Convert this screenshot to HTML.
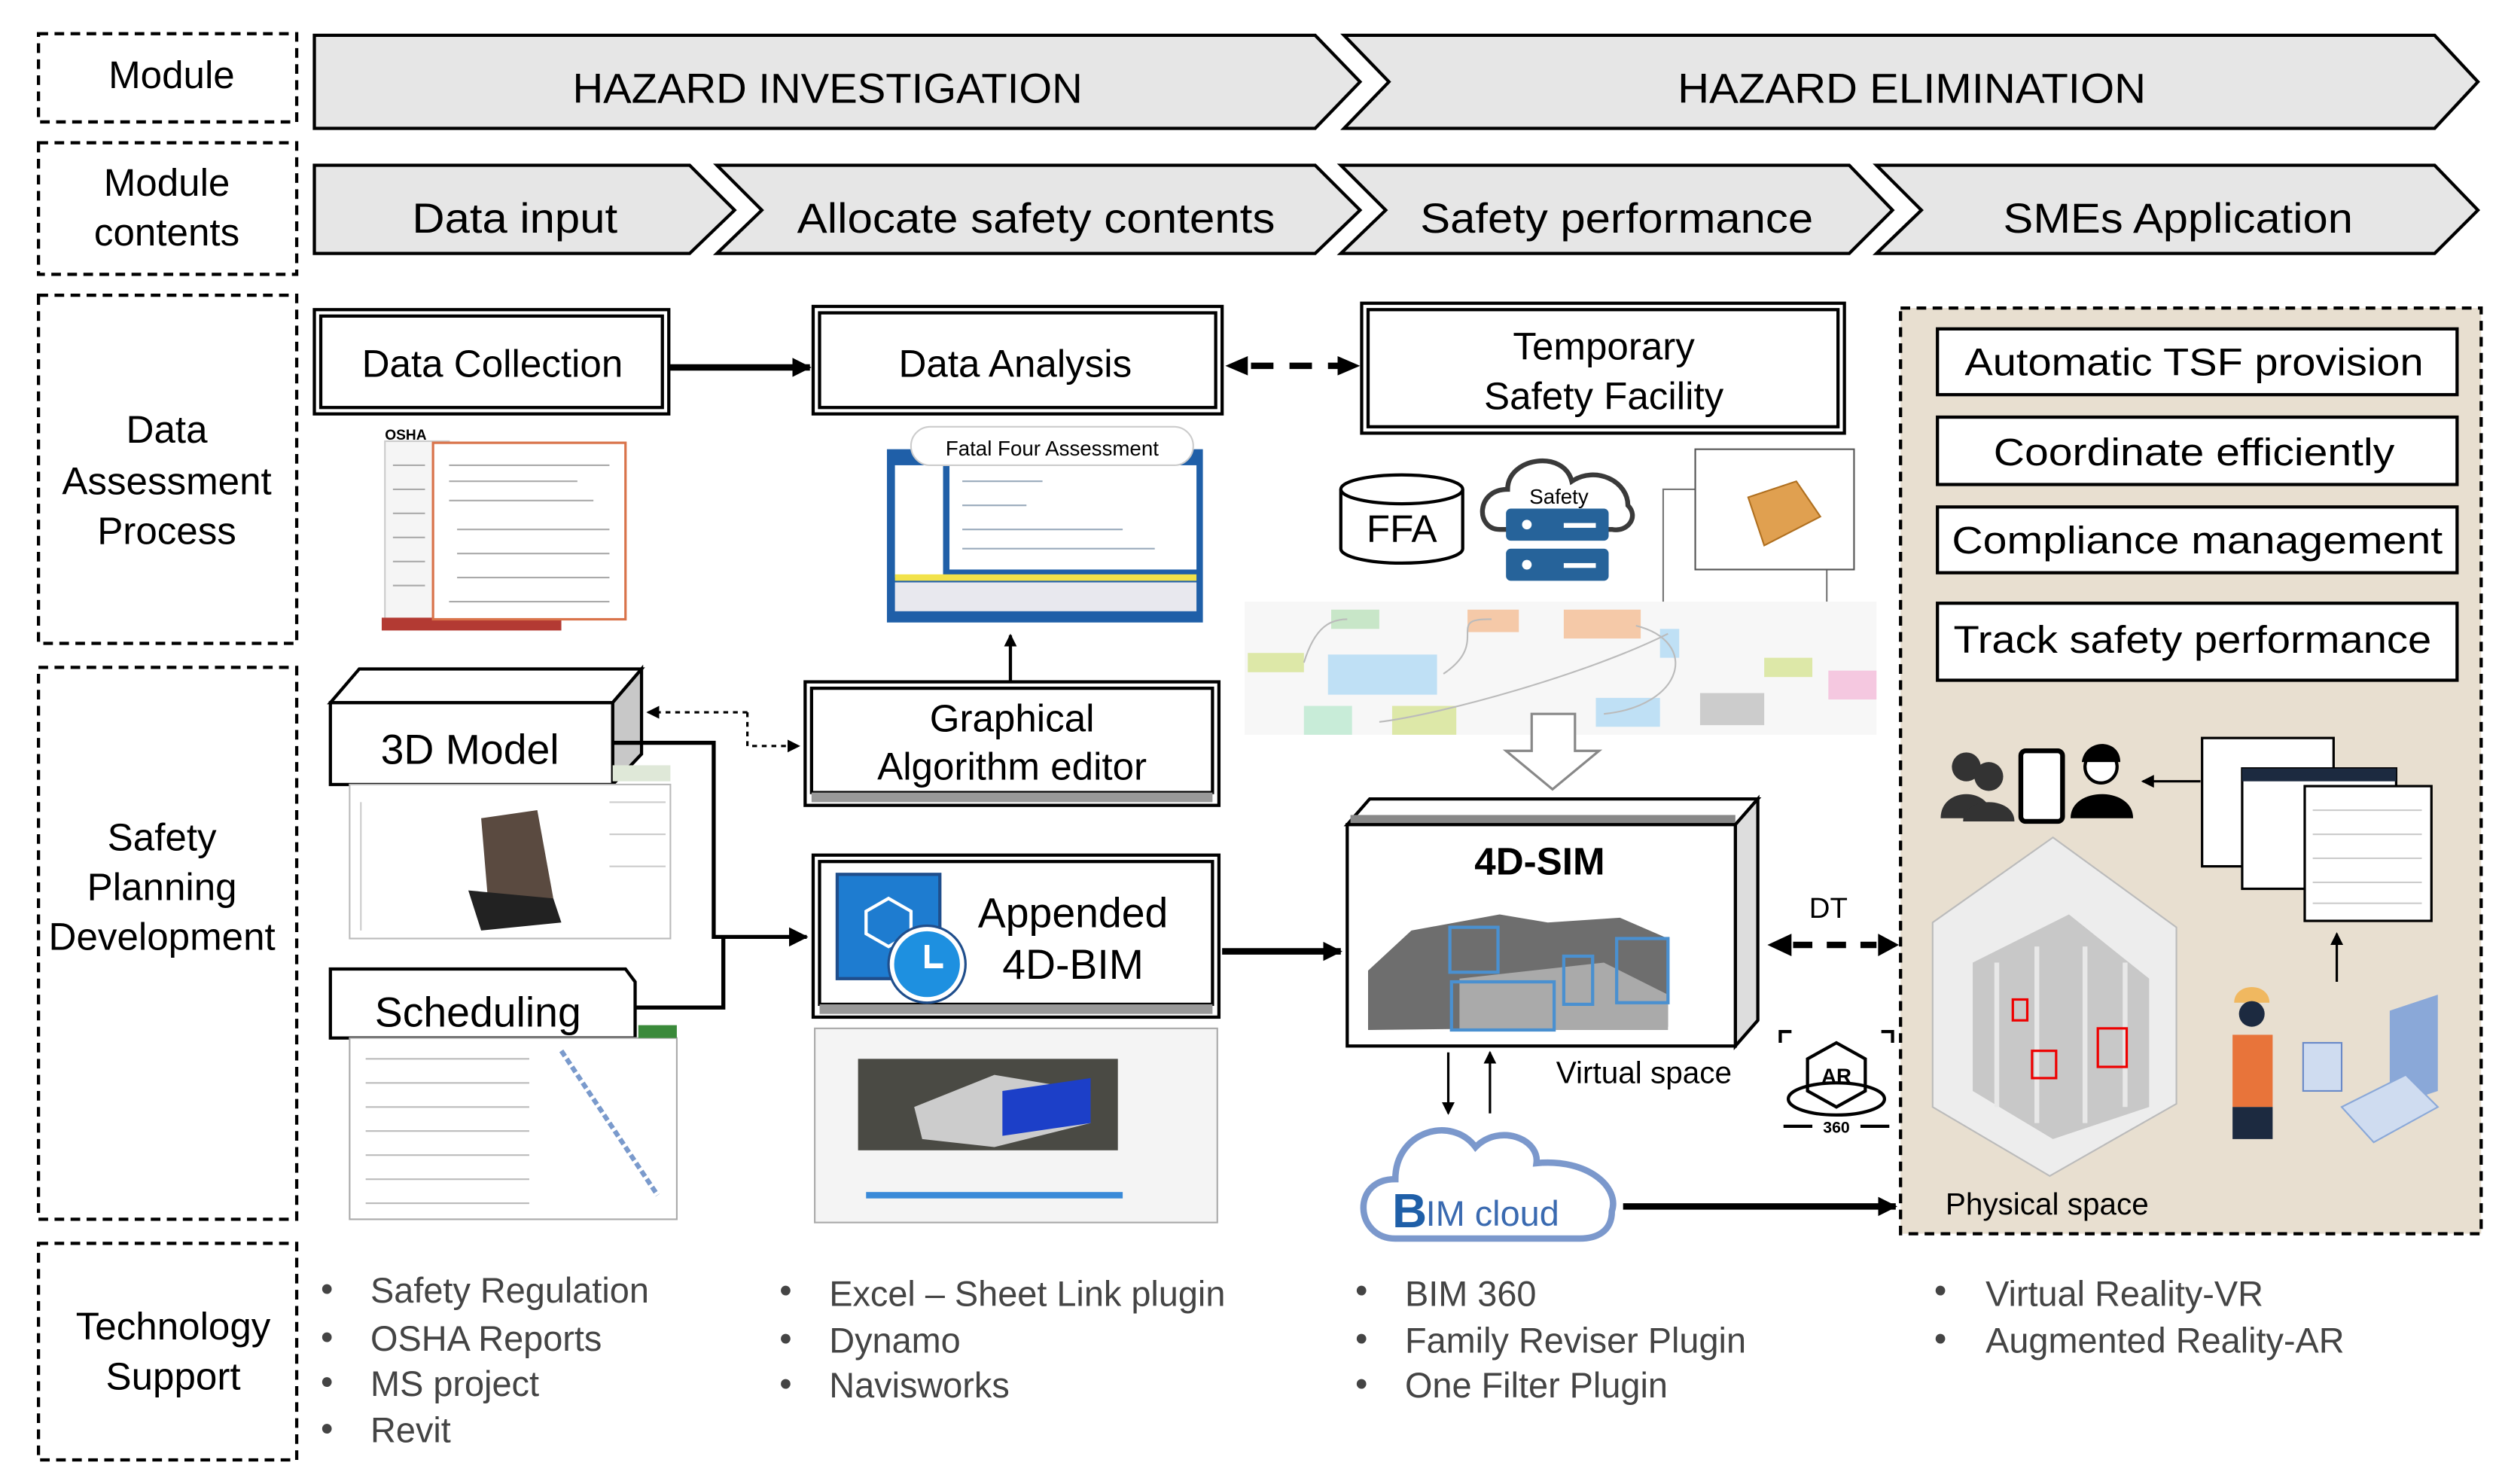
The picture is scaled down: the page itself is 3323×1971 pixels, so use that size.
<!DOCTYPE html>
<html><head><meta charset="utf-8"><style>
html,body{margin:0;padding:0;background:#fff;}
svg{display:block;}
text{font-family:"Liberation Sans",sans-serif;}
</style></head><body>
<svg width="3323" height="1971" viewBox="0 0 1560 925" preserveAspectRatio="none" xmlns="http://www.w3.org/2000/svg">
<defs>
<marker id="ah" markerWidth="6" markerHeight="6" refX="5" refY="3" orient="auto" markerUnits="strokeWidth"><path d="M0,0 L6,3 L0,6 z" fill="#000"/></marker>
<marker id="ahs" markerWidth="8" markerHeight="8" refX="7" refY="4" orient="auto" markerUnits="userSpaceOnUse"><path d="M0,0 L8,4 L0,8 z" fill="#000"/></marker>
<marker id="ahL" markerWidth="12" markerHeight="12" refX="11" refY="6" orient="auto" markerUnits="userSpaceOnUse"><path d="M0,0 L12,6 L0,12 z" fill="#000"/></marker>
</defs>
<rect width="1560" height="925" fill="#fff"/>

<!-- left dashed boxes -->
<g fill="none" stroke="#000" stroke-width="2" stroke-dasharray="6,4">
<rect x="24" y="21" width="161" height="55"/>
<rect x="24" y="89" width="161" height="82"/>
<rect x="24" y="184" width="161" height="217"/>
<rect x="24" y="416" width="161" height="344"/>
<rect x="24" y="775" width="161" height="135"/>
</g>
<g font-size="24" fill="#000" text-anchor="middle">
<text x="107" y="55">Module</text>
<text x="104" y="122">Module</text>
<text x="104" y="153">contents</text>
<text x="104" y="276">Data</text>
<text x="104" y="308">Assessment</text>
<text x="104" y="339">Process</text>
<text x="101" y="530">Safety</text>
<text x="101" y="561">Planning</text>
<text x="101" y="592">Development</text>
<text x="108" y="835">Technology</text>
<text x="108" y="866">Support</text>
</g>

<!-- chevrons -->
<g fill="#e6e6e6" stroke="#000" stroke-width="2">
<polygon points="196,22 820,22 848,51 820,80 196,80"/>
<polygon points="838,22 1518,22 1545,51 1518,80 838,80 866,51"/>
<polygon points="196,103 430,103 458,131 430,158 196,158"/>
<polygon points="447,103 820,103 848,131 820,158 447,158 475,131"/>
<polygon points="836,103 1153,103 1180,131 1153,158 836,158 864,131"/>
<polygon points="1170,103 1518,103 1545,131 1518,158 1170,158 1198,131"/>
</g>
<g font-size="26" fill="#000" text-anchor="middle">
<text x="516" y="64" textLength="318" lengthAdjust="spacingAndGlyphs">HAZARD INVESTIGATION</text>
<text x="1192" y="64" textLength="292" lengthAdjust="spacingAndGlyphs">HAZARD ELIMINATION</text>
<text x="321" y="145" textLength="128" lengthAdjust="spacingAndGlyphs">Data input</text>
<text x="646" y="145" textLength="298" lengthAdjust="spacingAndGlyphs">Allocate safety contents</text>
<text x="1008" y="145" textLength="245" lengthAdjust="spacingAndGlyphs">Safety performance</text>
<text x="1358" y="145" textLength="218" lengthAdjust="spacingAndGlyphs">SMEs Application</text>
</g>

<!-- Data collection / analysis / TSF boxes -->
<g fill="#fff" stroke="#000">
<rect x="196" y="193" width="221" height="65" stroke-width="2"/>
<rect x="200" y="197" width="213" height="57" stroke-width="2"/>
<rect x="507" y="191" width="255" height="67" stroke-width="2"/>
<rect x="511" y="195" width="247" height="59" stroke-width="2"/>
<rect x="849" y="189" width="301" height="81" stroke-width="2"/>
<rect x="853" y="193" width="293" height="73" stroke-width="2"/>
</g>
<g font-size="24" fill="#000" text-anchor="middle">
<text x="307" y="235">Data Collection</text>
<text x="633" y="235">Data Analysis</text>
<text x="1000" y="224">Temporary</text>
<text x="1000" y="255">Safety Facility</text>
</g>
<line x1="417" y1="229" x2="505" y2="229" stroke="#000" stroke-width="4" marker-end="url(#ahL)"/>
<line x1="780" y1="228" x2="835" y2="228" stroke="#000" stroke-width="4" stroke-dasharray="14,10"/>
<path d="M764,228 L778,222 L778,234 z" fill="#000"/>
<path d="M848,228 L834,222 L834,234 z" fill="#000"/>

<!-- OSHA image -->
<rect x="240" y="275" width="40" height="115" fill="#f5f5f5" stroke="#ccc"/>
<text x="240" y="274" font-size="9" font-weight="bold">OSHA</text>
<rect x="238" y="385" width="112" height="8" fill="#b33a33"/>
<rect x="270" y="276" width="120" height="110" fill="#fff" stroke="#d9734a" stroke-width="1.5"/>
<g stroke="#aaa" stroke-width="1">
<line x1="280" y1="290" x2="380" y2="290"/><line x1="280" y1="300" x2="360" y2="300"/><line x1="280" y1="312" x2="370" y2="312"/><line x1="285" y1="330" x2="380" y2="330"/><line x1="285" y1="345" x2="380" y2="345"/><line x1="285" y1="360" x2="380" y2="360"/><line x1="280" y1="375" x2="380" y2="375"/>
<line x1="245" y1="290" x2="265" y2="290"/><line x1="245" y1="305" x2="265" y2="305"/><line x1="245" y1="320" x2="265" y2="320"/><line x1="245" y1="335" x2="265" y2="335"/><line x1="245" y1="350" x2="265" y2="350"/><line x1="245" y1="365" x2="265" y2="365"/>
</g>

<!-- Fatal four screenshot -->
<rect x="553" y="280" width="197" height="108" fill="#1f5fa8"/>
<rect x="558" y="290" width="30" height="70" fill="#fff"/>
<rect x="592" y="290" width="154" height="65" fill="#fff"/>
<rect x="558" y="358" width="188" height="4" fill="#f2e24a"/>
<rect x="558" y="363" width="188" height="18" fill="#e8e8ee"/>
<g stroke="#9ab" stroke-width="1"><line x1="600" y1="300" x2="650" y2="300"/><line x1="600" y1="315" x2="640" y2="315"/><line x1="600" y1="330" x2="700" y2="330"/><line x1="600" y1="342" x2="720" y2="342"/></g>
<rect x="568" y="266" width="176" height="24" rx="12" fill="#fff" stroke="#ccc"/>
<text x="656" y="284" font-size="13" text-anchor="middle">Fatal Four Assessment</text>

<!-- FFA cylinder -->
<path d="M836,305 L836,342 A38,9 0 0 0 912,342 L912,305" fill="#fff" stroke="#000" stroke-width="2"/>
<ellipse cx="874" cy="305" rx="38" ry="9" fill="#fff" stroke="#000" stroke-width="2"/>
<text x="874" y="338" font-size="24" text-anchor="middle">FFA</text>
<!-- safety cloud -->
<path d="M935,330 C920,330 920,305 940,305 C940,285 975,280 980,300 C995,290 1015,300 1015,315 C1022,322 1015,332 1005,330 Z" fill="#fff" stroke="#3a3a3a" stroke-width="3"/>
<text x="972" y="314" font-size="13" text-anchor="middle">Safety</text>
<rect x="939" y="317" width="64" height="20" rx="3" fill="#26639a"/>
<rect x="939" y="342" width="64" height="20" rx="3" fill="#26639a"/>
<circle cx="952" cy="327" r="3" fill="#fff"/><circle cx="952" cy="352" r="3" fill="#fff"/>
<rect x="975" y="326" width="20" height="3" fill="#fff"/><rect x="975" y="351" width="20" height="3" fill="#fff"/>
<!-- revit image -->
<rect x="1037" y="305" width="102" height="80" fill="#fff" stroke="#777"/>
<rect x="1057" y="280" width="99" height="75" fill="#fff" stroke="#555"/>
<polygon points="1090,310 1120,300 1135,322 1100,340" fill="#e0a050" stroke="#b07020"/>
<!-- dynamo graph -->
<rect x="776" y="375" width="394" height="83" fill="#f7f7f7"/>
<g>
<rect x="830" y="380" width="30" height="12" fill="#c8e6c8"/><rect x="915" y="380" width="32" height="14" fill="#f5c9a8"/><rect x="975" y="380" width="48" height="18" fill="#f5c9a8"/>
<rect x="778" y="407" width="35" height="12" fill="#dde8a8"/><rect x="828" y="408" width="68" height="25" fill="#bfe0f5"/><rect x="1100" y="410" width="30" height="12" fill="#dde8a8"/><rect x="1140" y="418" width="30" height="18" fill="#f5c8e0"/>
<rect x="813" y="440" width="30" height="18" fill="#c8ecd8"/><rect x="868" y="440" width="40" height="18" fill="#dde8a8"/><rect x="995" y="435" width="40" height="18" fill="#bfe0f5"/><rect x="1060" y="432" width="40" height="20" fill="#ccc"/>
<rect x="1035" y="392" width="12" height="18" fill="#bfe0f5"/>
</g>
<g fill="none" stroke="#bbb" stroke-width="1"><path d="M813,413 C820,390 830,386 840,386"/><path d="M900,420 C930,400 900,385 930,386"/><path d="M860,450 C900,445 990,420 1040,395"/><path d="M1020,390 C1060,400 1050,440 1000,445"/></g>
<!-- hollow arrow -->
<polygon points="955,445 982,445 982,468 997,468 968,492 939,468 955,468" fill="#fff" stroke="#888" stroke-width="1.5"/>

<!-- 3D Model block -->
<polygon points="206,438 224,417 400,417 382,438" fill="#fff" stroke="#000" stroke-width="2"/>
<polygon points="382,438 400,417 400,470 382,489" fill="#c8c8c8" stroke="#000" stroke-width="2"/>
<rect x="206" y="438" width="176" height="51" fill="#fff" stroke="#000" stroke-width="2"/>
<text x="293" y="476" font-size="26" text-anchor="middle">3D Model</text>
<rect x="218" y="489" width="200" height="96" fill="#fff" stroke="#bbb"/>
<rect x="382" y="477" width="36" height="10" fill="#dfe8d8"/>
<polygon points="300,510 335,505 345,560 305,570" fill="#5a4a40"/>
<polygon points="292,555 345,560 350,575 300,580" fill="#222"/>
<g stroke="#ccc"><line x1="225" y1="500" x2="225" y2="580"/><line x1="380" y1="500" x2="415" y2="500"/><line x1="380" y1="520" x2="415" y2="520"/><line x1="380" y1="540" x2="415" y2="540"/></g>

<!-- Scheduling -->
<polygon points="206,604 390,604 396,612 396,647 206,647" fill="#fff" stroke="#000" stroke-width="2"/>
<text x="298" y="640" font-size="26" text-anchor="middle">Scheduling</text>
<rect x="218" y="647" width="204" height="113" fill="#fff" stroke="#aaa"/>
<rect x="398" y="639" width="24" height="8" fill="#3a8a3a"/>
<g stroke="#bbb"><line x1="228" y1="660" x2="330" y2="660"/><line x1="228" y1="675" x2="330" y2="675"/><line x1="228" y1="690" x2="330" y2="690"/><line x1="228" y1="705" x2="330" y2="705"/><line x1="228" y1="720" x2="330" y2="720"/><line x1="228" y1="735" x2="330" y2="735"/><line x1="228" y1="750" x2="330" y2="750"/></g>
<path d="M350,655 L410,745" stroke="#7a9acc" stroke-width="3" stroke-dasharray="4,2"/>

<!-- Graphical algorithm editor -->
<rect x="502" y="425" width="258" height="77" fill="#fff" stroke="#000" stroke-width="2"/>
<rect x="506" y="429" width="250" height="65" fill="#fff" stroke="#000" stroke-width="2"/>
<rect x="506" y="494" width="250" height="6" fill="#999"/>
<text x="631" y="456" font-size="24" text-anchor="middle">Graphical</text>
<text x="631" y="486" font-size="24" text-anchor="middle">Algorithm  editor</text>
<line x1="630" y1="425" x2="630" y2="396" stroke="#000" stroke-width="2" marker-end="url(#ahs)"/>

<!-- dashed connector 3D <-> GAE -->
<path d="M466,444 L466,465 L498,465" fill="none" stroke="#000" stroke-width="1.5" stroke-dasharray="3,3" marker-end="url(#ahs)"/>
<path d="M466,444 L404,444" fill="none" stroke="#000" stroke-width="1.5" stroke-dasharray="3,3" marker-end="url(#ahs)"/>
<!-- solid connectors -->
<path d="M382,463 L445,463 L445,584 L503,584" fill="none" stroke="#000" stroke-width="2.5" marker-end="url(#ahL)"/>
<path d="M396,628 L451,628 L451,584" fill="none" stroke="#000" stroke-width="2.5"/>

<!-- Appended 4D-BIM -->
<rect x="507" y="533" width="253" height="101" fill="#fff" stroke="#000" stroke-width="2"/>
<rect x="511" y="537" width="245" height="89" fill="#fff" stroke="#000" stroke-width="2"/>
<rect x="511" y="626" width="245" height="6" fill="#999"/>
<rect x="522" y="545" width="64" height="65" fill="#1e7cd0" stroke="#1f4e8c" stroke-width="2"/>
<polygon points="554,560 568,568 568,582 554,590 540,582 540,568" fill="none" stroke="#fff" stroke-width="2"/>
<circle cx="578" cy="601" r="22" fill="#1e90e0" stroke="#fff" stroke-width="3"/>
<circle cx="578" cy="601" r="24" fill="none" stroke="#1f4e8c" stroke-width="1.5"/>
<path d="M578,589 L578,602 L588,602" stroke="#fff" stroke-width="3" fill="none"/>
<text x="669" y="578" font-size="26" text-anchor="middle">Appended</text>
<text x="669" y="610" font-size="26" text-anchor="middle">4D-BIM</text>
<rect x="508" y="641" width="251" height="121" fill="#f4f4f4" stroke="#aaa"/>
<rect x="535" y="660" width="162" height="57" fill="#4a4a44"/>
<polygon points="570,690 620,670 680,680 680,700 620,715 575,710" fill="#ccc"/>
<polygon points="625,680 680,672 680,700 625,708" fill="#1c3fc8"/>
<rect x="540" y="743" width="160" height="4" fill="#3a8ad8"/>
<line x1="762" y1="593" x2="836" y2="593" stroke="#000" stroke-width="4" marker-end="url(#ahL)"/>

<!-- 4D-SIM block -->
<polygon points="840,514 854,498 1096,498 1082,514" fill="#fff" stroke="#000" stroke-width="2"/>
<rect x="842" y="508" width="240" height="6" fill="#888"/>
<polygon points="1082,514 1096,498 1096,636 1082,652" fill="#ddd" stroke="#000" stroke-width="2"/>
<rect x="840" y="514" width="242" height="138" fill="#fff" stroke="#000" stroke-width="2"/>
<text x="960" y="545" font-size="24" font-weight="bold" text-anchor="middle">4D-SIM</text>
<polygon points="853,605 880,580 935,570 965,575 1010,572 1040,585 1040,640 853,642" fill="#6e6e6e"/>
<polygon points="910,610 1000,600 1040,620 1040,642 910,642" fill="#aaa"/>
<g fill="none" stroke="#4a90d0" stroke-width="2"><rect x="904" y="578" width="30" height="28"/><rect x="905" y="612" width="64" height="30"/><rect x="975" y="596" width="18" height="30"/><rect x="1008" y="585" width="32" height="40"/></g>
<text x="1025" y="675" font-size="19" text-anchor="middle">Virtual space</text>
<line x1="903" y1="656" x2="903" y2="694" stroke="#000" stroke-width="1.5" marker-end="url(#ahs)"/>
<line x1="929" y1="694" x2="929" y2="656" stroke="#000" stroke-width="1.5" marker-end="url(#ahs)"/>

<!-- DT -->
<text x="1140" y="572" font-size="18" text-anchor="middle">DT</text>
<line x1="1118" y1="589" x2="1170" y2="589" stroke="#000" stroke-width="4" stroke-dasharray="12,9"/>
<path d="M1102,589 L1117,582 L1117,596 z" fill="#000"/>
<path d="M1184,589 L1171,582 L1171,596 z" fill="#000"/>
<!-- AR icon -->
<g fill="none" stroke="#000" stroke-width="2">
<path d="M1110,650 L1110,643 L1117,643"/><path d="M1180,650 L1180,643 L1173,643"/>
<polygon points="1127,660 1145,650 1163,660 1163,680 1145,690 1127,680"/>
<ellipse cx="1145" cy="685" rx="30" ry="10"/>
<line x1="1112" y1="702" x2="1130" y2="702"/><line x1="1160" y1="702" x2="1178" y2="702"/>
</g>
<text x="1145" y="675" font-size="13" font-weight="bold" text-anchor="middle">AR</text>
<text x="1145" y="706" font-size="10" font-weight="bold" text-anchor="middle">360</text>

<!-- BIM cloud -->
<path d="M870,772 C845,772 842,735 870,735 C870,705 905,695 920,715 C935,700 960,710 958,725 C990,722 1010,740 1005,755 C1005,768 995,772 985,772 Z" fill="#fff" stroke="#7b98cc" stroke-width="4"/>
<text x="868" y="765" font-size="30" font-weight="bold" fill="#1f5fa8">B</text>
<text x="889" y="764" font-size="22" fill="#3a6ab0">IM cloud</text>
<line x1="1012" y1="752" x2="1182" y2="752" stroke="#000" stroke-width="4" marker-end="url(#ahL)"/>

<!-- beige panel -->
<rect x="1185" y="192" width="362" height="577" fill="#e8dfd0" stroke="#000" stroke-width="2" stroke-dasharray="6,4"/>
<g fill="#fff" stroke="#000" stroke-width="2">
<rect x="1208" y="205" width="324" height="41"/>
<rect x="1208" y="260" width="324" height="42"/>
<rect x="1208" y="316" width="324" height="41"/>
<rect x="1208" y="376" width="324" height="48"/>
</g>
<g font-size="24" text-anchor="middle">
<text x="1368" y="234" textLength="286" lengthAdjust="spacingAndGlyphs">Automatic TSF provision</text>
<text x="1368" y="290" textLength="250" lengthAdjust="spacingAndGlyphs">Coordinate efficiently</text>
<text x="1370" y="345" textLength="306" lengthAdjust="spacingAndGlyphs">Compliance management</text>
<text x="1367" y="407" textLength="298" lengthAdjust="spacingAndGlyphs">Track safety performance</text>
</g>
<!-- people icons -->
<circle cx="1226" cy="478" r="9" fill="#333"/><path d="M1210,510 C1210,490 1242,490 1242,510 Z" fill="#333"/>
<circle cx="1240" cy="484" r="9" fill="#333"/><path d="M1224,512 C1224,496 1256,496 1256,512 Z" fill="#333"/>
<rect x="1260" y="468" width="26" height="44" rx="3" fill="#fff" stroke="#000" stroke-width="3"/>
<circle cx="1310" cy="478" r="10" fill="#fff" stroke="#000" stroke-width="2"/><path d="M1298,475 C1300,460 1322,460 1322,475 Z" fill="#000"/>
<path d="M1291,510 C1291,490 1330,490 1330,510 Z" fill="#000"/>
<line x1="1372" y1="487" x2="1336" y2="487" stroke="#000" stroke-width="1.5" marker-end="url(#ahs)"/>
<rect x="1373" y="460" width="82" height="80" fill="#fff" stroke="#000" stroke-width="1.5"/>
<rect x="1398" y="479" width="96" height="75" fill="#fff" stroke="#000" stroke-width="1.5"/>
<rect x="1398" y="479" width="96" height="8" fill="#1c2a40"/>
<rect x="1437" y="490" width="79" height="84" fill="#fff" stroke="#000" stroke-width="1.5"/>
<g stroke="#ccc"><line x1="1442" y1="505" x2="1510" y2="505"/><line x1="1442" y1="520" x2="1510" y2="520"/><line x1="1442" y1="535" x2="1510" y2="535"/><line x1="1442" y1="550" x2="1510" y2="550"/><line x1="1442" y1="563" x2="1510" y2="563"/></g>
<line x1="1457" y1="612" x2="1457" y2="582" stroke="#000" stroke-width="1.5" marker-end="url(#ahs)"/>
<!-- building -->
<polygon points="1280,522 1357,578 1357,688 1278,733 1205,690 1205,575" fill="#ededed" stroke="#bbb"/>
<polygon points="1230,600 1290,570 1340,610 1340,690 1280,710 1230,680" fill="#c8c8c8"/>
<g fill="none" stroke="#e8e8e8" stroke-width="3"><line x1="1245" y1="600" x2="1245" y2="690"/><line x1="1270" y1="590" x2="1270" y2="700"/><line x1="1300" y1="590" x2="1300" y2="700"/><line x1="1325" y1="600" x2="1325" y2="690"/></g>
<g fill="none" stroke="#e00" stroke-width="1.5"><rect x="1255" y="623" width="9" height="13"/><rect x="1267" y="655" width="15" height="17"/><rect x="1308" y="641" width="18" height="24"/></g>
<text x="1213" y="757" font-size="19">Physical space</text>
<!-- worker -->
<path d="M1393,625 C1393,612 1415,612 1415,625 Z" fill="#f0b860"/>
<circle cx="1404" cy="632" r="8" fill="#1c2a40"/>
<rect x="1392" y="645" width="25" height="45" fill="#e8743a"/>
<rect x="1392" y="690" width="25" height="20" fill="#1c2a40"/>
<rect x="1436" y="650" width="24" height="30" fill="#cfdcf0" stroke="#6a8ac8"/>
<polygon points="1490,630 1520,620 1520,680 1490,690" fill="#8aa8d8"/>
<polygon points="1460,690 1500,670 1520,690 1480,712" fill="#cfdcf0" stroke="#8aa8d8"/>

<!-- tech support -->
<g font-size="22" fill="#444">
<text x="200" y="811">•</text><text x="231" y="812">Safety  Regulation</text>
<text x="200" y="841">•</text><text x="231" y="842">OSHA  Reports</text>
<text x="200" y="869">•</text><text x="231" y="870">MS  project</text>
<text x="200" y="898">•</text><text x="231" y="899">Revit</text>
<text x="486" y="812">•</text><text x="517" y="814">Excel  –  Sheet  Link  plugin</text>
<text x="486" y="842">•</text><text x="517" y="843">Dynamo</text>
<text x="486" y="870">•</text><text x="517" y="871">Navisworks</text>
<text x="845" y="812">•</text><text x="876" y="814">BIM  360</text>
<text x="845" y="842">•</text><text x="876" y="843">Family  Reviser  Plugin</text>
<text x="845" y="870">•</text><text x="876" y="871">One  Filter  Plugin</text>
<text x="1206" y="812">•</text><text x="1238" y="814">Virtual  Reality-VR</text>
<text x="1206" y="842">•</text><text x="1238" y="843">Augmented  Reality-AR</text>
</g>
</svg>
</body></html>
